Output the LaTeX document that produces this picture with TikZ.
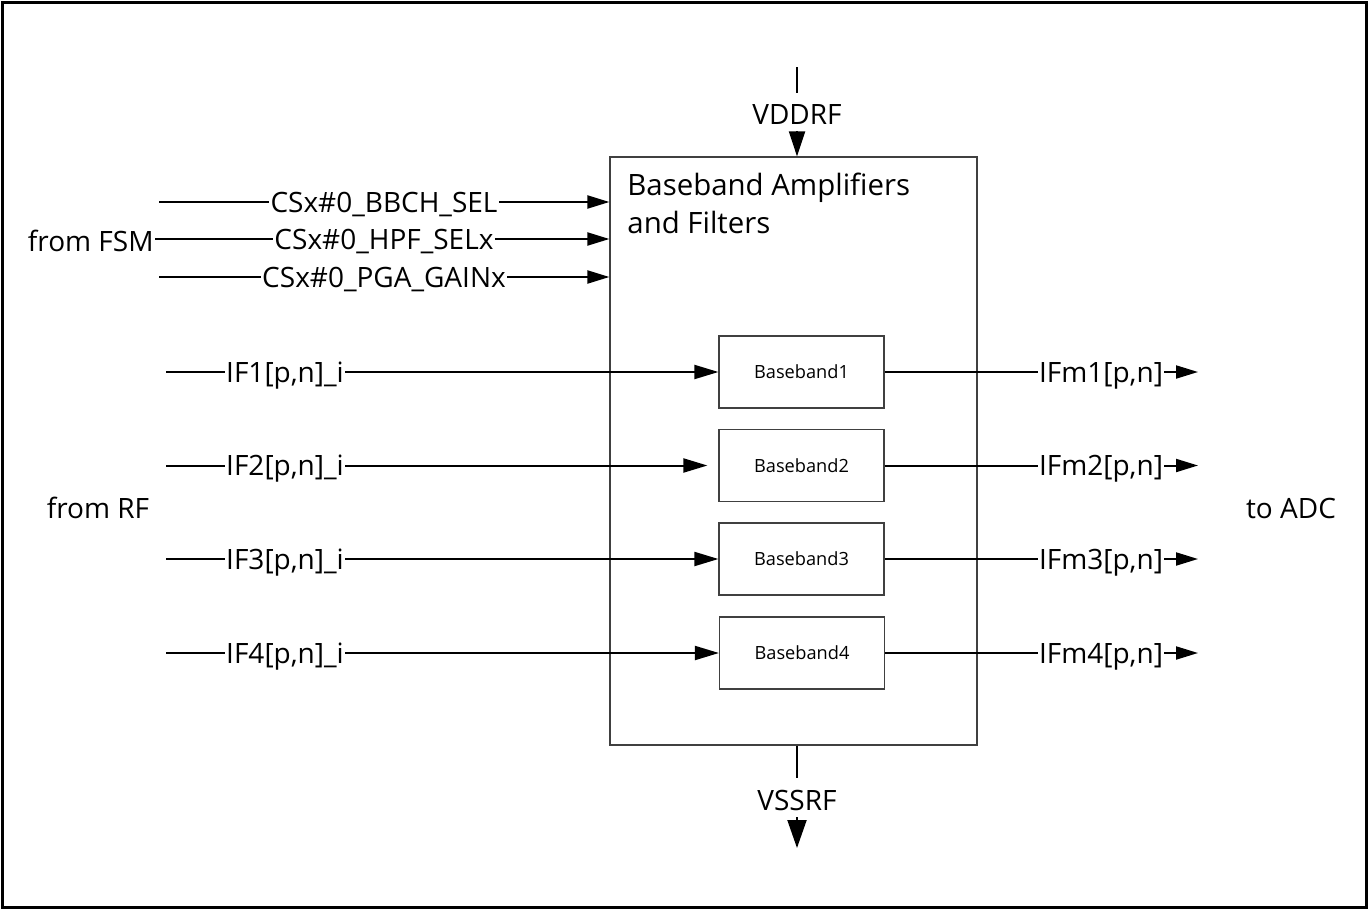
\documentclass[tikz,border=0pt]{standalone}
\usepackage{fontspec}
\setmainfont{Open Sans}
\usetikzlibrary{arrows.meta}
\begin{document}
\begin{tikzpicture}[x=0.5pt,y=-0.5pt,
  lbl/.style={font=\fontsize{14}{17}\selectfont, inner sep=0.5pt, text height=11pt, text depth=1pt},
  wire/.style={line width=1pt, black},
  ctltip/.tip={Triangle[length=11pt,width=6.5pt]},
  iftip/.tip={Triangle[length=12pt,width=7pt]},
  outtip/.tip={Triangle[length=11pt,width=6.5pt]},
  vddtip/.tip={Triangle[length=12.5pt,width=8pt]},
  vsstip/.tip={Triangle[length=14pt,width=9.5pt]},
  mainbox/.style={draw=black!75, line width=0.6pt, minimum width=183.5pt, minimum height=294pt, inner sep=0pt},
  bbbox/.style={draw=black!75, line width=0.6pt, minimum width=82.5pt, minimum height=36pt, inner sep=0pt, font=\fontsize{9.1}{11}\selectfont}
]
\useasboundingbox (0,0) rectangle (1371,910);
\draw[line width=1.5pt] (2,2) rectangle (1366,907);

% main block
\node[mainbox] (bb) at (793.5,451) {};
\node[anchor=north west, align=left, inner sep=0pt, font=\fontsize{14.7}{19}\selectfont] (title) at (627,172.5) {Baseband Amplifiers\\and Filters};

% supplies
\node[lbl] (vdd) at (797,114) {VDDRF};
\coordinate (vddtop) at (797,67);
\draw[wire] (vddtop) -- ([yshift=4pt]vdd.north);
\draw[wire,-{vddtip}] ([yshift=-2pt]vdd.south) -- (vdd |- bb.north);

\node[lbl] (vss) at (797,800) {VSSRF};
\coordinate (vssend) at (797,848);
\draw[wire] (vss |- bb.south) -- ([yshift=4.5pt]vss.north);
\draw[wire,-{vsstip}] ([yshift=-2pt]vss.south) -- (vssend);

% control inputs
\node[lbl, anchor=east] (fsm) at (155,241) {from FSM};
\node[lbl] (c1) at (384,202) {CSx\#0\_BBCH\_SEL};
\node[lbl] (c2) at (384,239) {CSx\#0\_HPF\_SELx};
\node[lbl] (c3) at (384,277) {CSx\#0\_PGA\_GAINx};
\coordinate (c1s) at (159,202);
\coordinate (c3s) at (159,277);
\draw[wire] (c1s) -- (c1.west);
\draw[wire] (fsm.east |- c2) -- (c2.west);
\draw[wire] (c3s) -- (c3.west);
\draw[wire,-{ctltip}] (c1.east) -- (c1.east -| bb.west);
\draw[wire,-{ctltip}] (c2.east) -- (c2.east -| bb.west);
\draw[wire,-{ctltip}] (c3.east) -- (c3.east -| bb.west);

% baseband channels
\node[bbbox] (b1) at (801.5,372) {Baseband1};
\node[bbbox] (b2) at (801.5,465.5) {Baseband2};
\node[bbbox] (b3) at (801.5,559) {Baseband3};
\node[bbbox] (b4) at (802,653) {Baseband4};

\node[lbl] (rf) at (98,508) {from RF};
\node[lbl] (adc) at (1291,508) {to ADC};

\node[lbl] (i1) at (285,372) {IF1[p,n]\_i};
\node[lbl] (i2) at (285,465.5) {IF2[p,n]\_i};
\node[lbl] (i3) at (285,559) {IF3[p,n]\_i};
\node[lbl] (i4) at (285,653) {IF4[p,n]\_i};
\coordinate (i1s) at (166,372);
\coordinate (i2s) at (166,465.5);
\coordinate (i3s) at (166,559);
\coordinate (i4s) at (166,653);
\draw[wire] (i1s) -- (i1.west);
\draw[wire] (i2s) -- (i2.west);
\draw[wire] (i3s) -- (i3.west);
\draw[wire] (i4s) -- (i4.west);
\draw[wire,-{iftip}] (i1.east) -- (b1.west);
\draw[wire,-{iftip}] (i2.east) -- ([xshift=-5.5pt]b2.west);
\draw[wire,-{iftip}] (i3.east) -- (b3.west);
\draw[wire,-{iftip}] (i4.east) -- (b4.west);

\node[lbl] (o1) at (1101,372) {IFm1[p,n]};
\node[lbl] (o2) at (1101,465.5) {IFm2[p,n]};
\node[lbl] (o3) at (1101,559) {IFm3[p,n]};
\node[lbl] (o4) at (1101,653) {IFm4[p,n]};
\coordinate (o1e) at (1198,372);
\coordinate (o2e) at (1198,465.5);
\coordinate (o3e) at (1198,559);
\coordinate (o4e) at (1198,653);
\draw[wire] (b1.east) -- (o1.west);
\draw[wire] (b2.east) -- (o2.west);
\draw[wire] (b3.east) -- (o3.west);
\draw[wire] (b4.east) -- (o4.west);
\draw[wire,-{outtip}] (o1.east) -- (o1e);
\draw[wire,-{outtip}] (o2.east) -- (o2e);
\draw[wire,-{outtip}] (o3.east) -- (o3e);
\draw[wire,-{outtip}] (o4.east) -- (o4e);
\end{tikzpicture}
\end{document}
